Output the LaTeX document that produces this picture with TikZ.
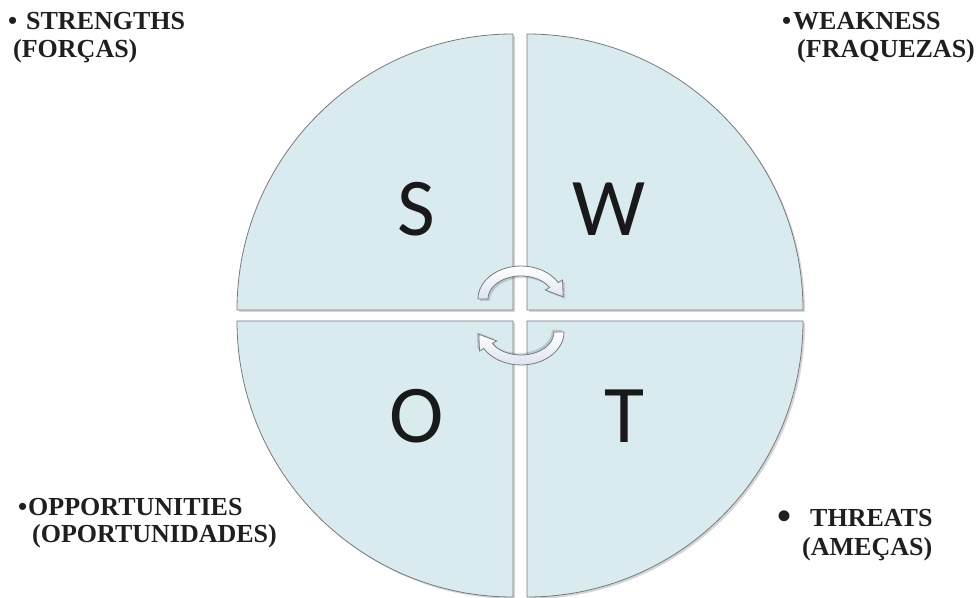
\documentclass[tikz,border=0pt]{standalone}
\usepackage{fontspec}
\setmainfont{Liberation Serif}
\newfontfamily\letterfont{Carlito}
\definecolor{quadfill}{RGB}{217,235,239}
\definecolor{quadline}{RGB}{118,122,128}
\definecolor{arrowfill}{RGB}{222,228,238}
\tikzset{
  quad/.style={fill=quadfill, draw=quadline, line width=0.8pt},
  quadshadow/.style={fill=black, opacity=0.16},
  swotletter/.style={font=\letterfont\fontsize{82}{82}\selectfont, text=black!90, anchor=base, inner sep=0pt},
  swottext/.style={font=\bfseries\fontsize{26}{26}\selectfont, anchor=base west, inner sep=0pt, text=black!88},
  cyc/.style={draw=quadline, line width=0.8pt, top color=white, bottom color=arrowfill},
  cycshadow/.style={fill=black, opacity=0.15},
  cycarrow/.pic={
    \path[cycshadow] (-41,-2) arc[start angle=180,end angle=30,x radius=43pt,y radius=33pt]
      -- (43.5,17) -- (44.2,0.2) -- (26.3,7) -- (30.6,9.5)
      arc[start angle=30,end angle=180,x radius=33pt,y radius=23pt] -- cycle;
    \path[cyc] (-43,0) arc[start angle=180,end angle=30,x radius=43pt,y radius=33pt]
      -- (41.5,19) -- (42.2,2.2) -- (24.3,9) -- (28.6,11.5)
      arc[start angle=30,end angle=180,x radius=33pt,y radius=23pt] -- cycle;
  }
}
\begin{document}
\begin{tikzpicture}[x=1pt,y=1pt]
\useasboundingbox (0,0) rectangle (976,597);
% shadows
\fill[quadshadow] (515,285) -- (239,285) arc[start angle=180,end angle=90,radius=276pt] -- cycle;
\fill[quadshadow] (529,285) -- (529,561) arc[start angle=90,end angle=0,radius=276pt] -- cycle;
\fill[quadshadow] (515,274) -- (239,274) arc[start angle=180,end angle=270,radius=276pt] -- cycle;
\fill[quadshadow] (529,274) -- (805,274) arc[start angle=0,end angle=-90,radius=276pt] -- cycle;
% quadrants
\path[quad] (513,287) -- (237,287) arc[start angle=180,end angle=90,radius=276pt] -- cycle;
\path[quad] (527,287) -- (527,563) arc[start angle=90,end angle=0,radius=276pt] -- cycle;
\path[quad] (513,276) -- (237,276) arc[start angle=180,end angle=270,radius=276pt] -- cycle;
\path[quad] (527,276) -- (803,276) arc[start angle=0,end angle=-90,radius=276pt] -- cycle;
% letters
\node[swotletter] (S) at (416,361) {S};
\node[swotletter] (W) at (609,361) {W};
\node[swotletter] (O) at (417,154) {O};
\node[swotletter] (T) at (624,154) {T};
% cycle arrows
\pic at (521,298) {cycarrow};
\pic[rotate=180] at (521,265) {cycarrow};
% labels
\node[swottext] (sbul) at (8,567) {\textbullet};
\node[swottext] (s1) at (26,567) {STRENGTHS};
\node[swottext] (s2) at (13,539) {(FORÇAS)};
\node[swottext] (wbul) at (782,567) {\textbullet};
\node[swottext] (w1) at (793,567) {WEAKNESS};
\node[swottext] (w2) at (797,539) {(FRAQUEZAS)};
\node[swottext] (obul) at (18,82) {\textbullet};
\node[swottext] (o1) at (28,82) {OPPORTUNITIES};
\node[swottext] (o2) at (32,55) {(OPORTUNIDADES)};
\node[swottext, font=\bfseries\fontsize{40}{40}\selectfont] (tbul) at (777,68) {\textbullet};
\node[swottext] (t1) at (810,71) {THREATS};
\node[swottext] (t2) at (802,42) {(AMEÇAS)};
\end{tikzpicture}
\end{document}
